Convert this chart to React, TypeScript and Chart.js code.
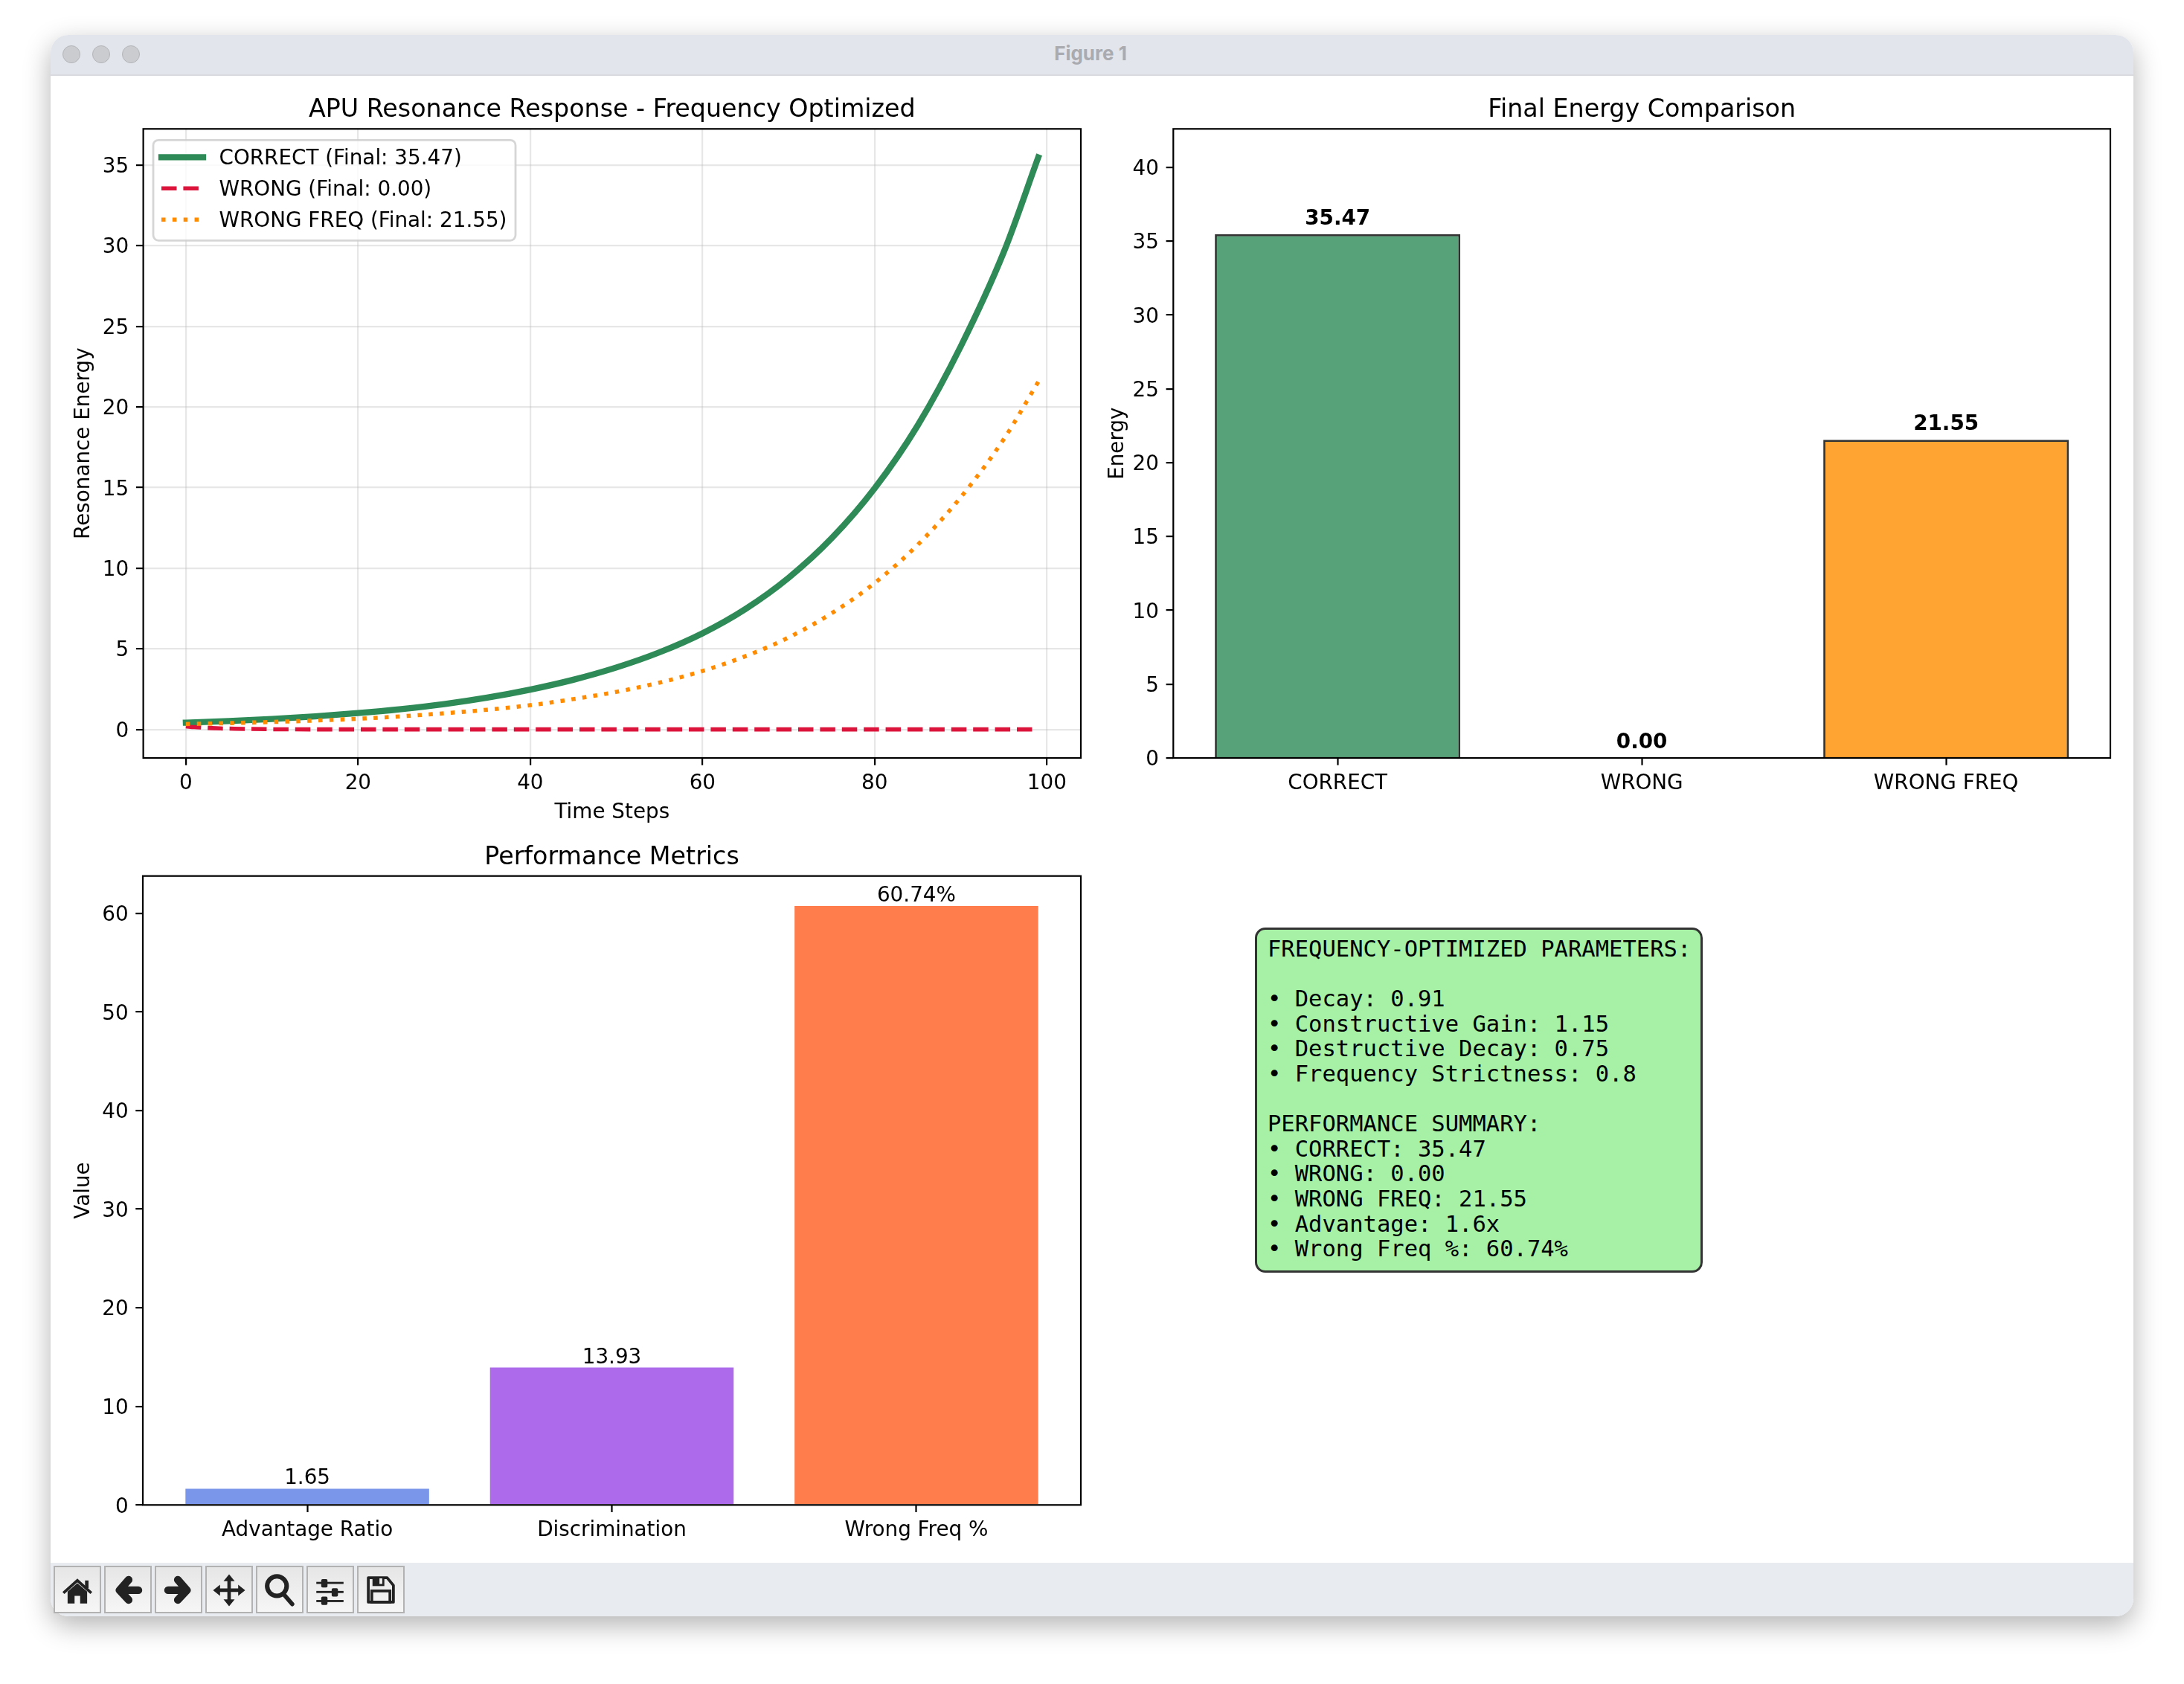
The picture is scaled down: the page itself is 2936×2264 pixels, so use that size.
import { useEffect, useRef } from "react";
import { Chart, registerables } from "chart.js";

Chart.register(...registerables);

const FONT = "'DejaVu Sans'";

// line chart
const steps = [0, 5, 10, 15, 20, 25, 30, 35, 40, 45, 50, 55, 60, 65, 70, 75, 80, 85, 90, 95, 99];
const correctEnergy = [0.42, 0.52, 0.65, 0.81, 1.01, 1.26, 1.57, 1.97, 2.47, 3.08, 3.84, 4.78, 5.96, 7.47, 9.4, 11.85, 14.95, 18.85, 23.75, 29.6, 35.47];
const wrongFreqEnergy = [0.33, 0.39, 0.46, 0.55, 0.66, 0.81, 1.0, 1.22, 1.5, 1.88, 2.33, 2.9, 3.62, 4.54, 5.7, 7.2, 9.08, 11.45, 14.4, 18.0, 21.55];
const wrongSteps = [0, 1, 2, 3, 4, 5, 7, 10, 15, 20, 40, 60, 80, 99];
const wrongEnergy = [0.19, 0.14, 0.11, 0.08, 0.06, 0.05, 0.03, 0.01, 0, 0, 0, 0, 0, 0];
const lineXTicks = [0, 20, 40, 60, 80, 100];
const lineYTicks = [0, 5, 10, 15, 20, 25, 30, 35];

// final energy bars
const energyLabels = ["CORRECT", "WRONG", "WRONG FREQ"];
const finalEnergy = [35.47, 0, 21.55];
const energyText = ["35.47", "0.00", "21.55"];
const energyColors = ["rgba(46,139,87,0.8)", "rgba(220,20,60,0.8)", "rgba(255,140,0,0.8)"];
const energyYTicks = [0, 5, 10, 15, 20, 25, 30, 35, 40];

// metric bars
const metricLabels = ["Advantage Ratio", "Discrimination", "Wrong Freq %"];
const metricValues = [1.65, 13.93, 60.74];
const metricText = ["1.65", "13.93", "60.74%"];
const metricColors = ["rgba(65,105,225,0.7)", "rgba(138,43,226,0.7)", "rgba(255,69,0,0.7)"];
const metricYTicks = [0, 10, 20, 30, 40, 50, 60];

const summaryLines = [
  "FREQUENCY-OPTIMIZED PARAMETERS:",
  "",
  "• Decay: 0.91",
  "• Constructive Gain: 1.15",
  "• Destructive Decay: 0.75",
  "• Frequency Strictness: 0.8",
  "",
  "PERFORMANCE SUMMARY:",
  "• CORRECT: 35.47",
  "• WRONG: 0.00",
  "• WRONG FREQ: 21.55",
  "• Advantage: 1.6x",
  "• Wrong Freq %: 60.74%",
];

const TICK_SIZE = 27.8;

const frame = {
  id: "frame",
  afterDatasetsDraw(chart: any) {
    const { ctx, chartArea: a } = chart;
    ctx.save();
    ctx.strokeStyle = "#000";
    ctx.lineWidth = 2.2;
    ctx.strokeRect(a.left, a.top, a.right - a.left, a.bottom - a.top);
    ctx.restore();
  },
};

const valueLabels = (texts: string[], weight: string, gap: number) => ({
  id: "valueLabels",
  afterDatasetsDraw(chart: any) {
    const { ctx } = chart;
    const bars = chart.getDatasetMeta(0).data;
    ctx.save();
    ctx.fillStyle = "#000";
    ctx.font = `${weight} ${TICK_SIZE}px ${FONT}`;
    ctx.textAlign = "center";
    ctx.textBaseline = "alphabetic";
    bars.forEach((bar: any, i: number) => ctx.fillText(texts[i], bar.x, bar.y - gap));
    ctx.restore();
  },
});

const legendBox = {
  id: "legendBox",
  afterDatasetsDraw(chart: any) {
    const { ctx, chartArea: a } = chart;
    const x = a.left + 13.4;
    const y = a.top + 15;
    ctx.save();
    ctx.beginPath();
    ctx.roundRect(x, y, 487, 135, 7);
    ctx.fillStyle = "rgba(255,255,255,0.8)";
    ctx.fill();
    ctx.strokeStyle = "rgba(204,204,204,0.8)";
    ctx.lineWidth = 2.8;
    ctx.stroke();
    ctx.font = `${TICK_SIZE}px ${FONT}`;
    ctx.textBaseline = "middle";
    chart.data.datasets.forEach((ds: any, i: number) => {
      const rowY = y + 23 + i * 42;
      ctx.beginPath();
      ctx.moveTo(x + 11, rowY);
      ctx.lineTo(x + 67, rowY);
      ctx.strokeStyle = ds.borderColor;
      ctx.lineWidth = ds.borderWidth;
      ctx.lineCap = ds.borderCapStyle;
      ctx.setLineDash(ds.borderDash || []);
      ctx.stroke();
      ctx.fillStyle = "#000";
      ctx.fillText(ds.label, x + 88.5, rowY + 2.5);
    });
    ctx.restore();
  },
};

const setTicks = (values: number[]) => (scale: any) => {
  scale.ticks = values.map((value) => ({ value }));
};

function baseX(extra: any) {
  return {
    type: "linear",
    offset: false,
    border: { display: false },
    afterFit: (s: any) => {
      s.height = extra.boxHeight;
    },
    ...extra,
  };
}

function yAxis(title: string, min: number, max: number, values: number[], boxWidth: number, grid: boolean, titleInset: number) {
  return {
    type: "linear",
    min,
    max,
    afterBuildTicks: setTicks(values),
    afterFit: (s: any) => {
      s.width = boxWidth;
    },
    border: { display: false },
    grid: {
      display: true,
      drawOnChartArea: grid,
      color: "rgba(176,176,176,0.3)",
      lineWidth: 2.2,
      tickColor: "#000",
      tickWidth: 2.2,
      tickLength: 9.7,
    },
    ticks: {
      color: "#000",
      padding: 9.7,
      labelOffset: 3,
      font: { family: FONT, size: TICK_SIZE },
    },
    title: {
      display: true,
      text: title,
      color: "#000",
      padding: { top: titleInset, bottom: 0 },
      font: { family: FONT, size: TICK_SIZE, lineHeight: 1 },
    },
  };
}

function barXAxis(labels: string[], boxHeight: number) {
  return baseX({
    boxHeight,
    min: -0.54,
    max: 2.54,
    afterBuildTicks: setTicks(labels.map((_, i) => i)),
    grid: {
      offset: false,
      drawOnChartArea: false,
      tickColor: "#000",
      tickWidth: 2.2,
      tickLength: 9.7,
    },
    ticks: {
      color: "#000",
      padding: 8,
      maxRotation: 0,
      autoSkip: false,
      font: { family: FONT, size: TICK_SIZE },
      callback: (v: number) => labels[v],
    },
  });
}

function titleOption(text: string, boxHeight: number) {
  return {
    display: true,
    text,
    color: "#000",
    fullSize: false,
    padding: { top: 21.5, bottom: boxHeight - 33.3 - 21.5 },
    font: { family: FONT, size: 33.3, weight: "normal", lineHeight: 1 },
  };
}

function useChart(build: () => any) {
  const ref = useRef<HTMLCanvasElement | null>(null);
  useEffect(() => {
    if (!ref.current) return;
    const chart = new Chart(ref.current, build());
    return () => chart.destroy();
  }, []);
  return ref;
}

const lineConfig = () => ({
  type: "line",
  data: {
    datasets: [
      {
        label: "CORRECT (Final: 35.47)",
        data: steps.map((x, i) => ({ x, y: correctEnergy[i] })),
        borderColor: "#2E8B57",
        borderWidth: 8.3,
        borderCapStyle: "square",
        order: 3,
      },
      {
        label: "WRONG (Final: 0.00)",
        data: wrongSteps.map((x, i) => ({ x, y: wrongEnergy[i] })),
        borderColor: "#DC143C",
        borderWidth: 5.55,
        borderDash: [20.5, 8.9],
        borderCapStyle: "butt",
        order: 2,
      },
      {
        label: "WRONG FREQ (Final: 21.55)",
        data: steps.map((x, i) => ({ x, y: wrongFreqEnergy[i] })),
        borderColor: "#FF8C00",
        borderWidth: 5.55,
        borderDash: [5.55, 9.3],
        borderCapStyle: "butt",
        order: 1,
      },
    ],
  },
  options: {
    responsive: false,
    animation: false,
    devicePixelRatio: 1,
    layout: { autoPadding: false, padding: { right: 27 } },
    elements: { point: { radius: 0 }, line: { cubicInterpolationMode: "monotone" } },
    plugins: {
      legend: { display: false },
      tooltip: { enabled: false },
      title: titleOption("APU Resonance Response - Frequency Optimized", 63.3),
    },
    scales: {
      x: baseX({
        boxHeight: 88,
        min: -4.95,
        max: 103.95,
        afterBuildTicks: setTicks(lineXTicks),
        grid: {
          color: "rgba(176,176,176,0.3)",
          lineWidth: 2.2,
          tickColor: "#000",
          tickWidth: 2.2,
          tickLength: 9.7,
        },
        ticks: {
          color: "#000",
          padding: 8,
          maxRotation: 0,
          font: { family: FONT, size: TICK_SIZE },
        },
        title: {
          display: true,
          text: "Time Steps",
          color: "#000",
          padding: 0,
          font: { family: FONT, size: TICK_SIZE, lineHeight: 1 },
        },
      }),
      y: yAxis("Resonance Energy", -1.77, 37.24, lineYTicks, 96.6, true, 3),
    },
  },
  plugins: [frame, legendBox],
});

const barConfig = (
  labels: string[],
  values: number[],
  colors: string[],
  yTitle: string,
  yMax: number,
  yTicks: number[],
  title: string,
  titleBox: number,
  edge: boolean,
  xBox: number,
  yBox: number,
  titleInset: number
) => ({
  type: "bar",
  data: {
    datasets: [
      {
        data: values.map((y, x) => ({ x, y })),
        backgroundColor: colors,
        borderColor: edge ? "rgba(0,0,0,0.8)" : "transparent",
        borderWidth: edge ? 2.8 : 0,
        borderSkipped: "bottom",
        barPercentage: edge ? 0.807 : 0.8,
        categoryPercentage: 1,
      },
    ],
  },
  options: {
    responsive: false,
    animation: false,
    devicePixelRatio: 1,
    layout: { autoPadding: false, padding: { right: 27 } },
    plugins: {
      legend: { display: false },
      tooltip: { enabled: false },
      title: titleOption(title, titleBox),
    },
    scales: {
      x: barXAxis(labels, xBox),
      y: yAxis(yTitle, 0, yMax, yTicks, yBox, false, titleInset),
    },
  },
});

const ICONS = [
  <g key="home" fill="#222">
    <path d="M18 35 L32 23 L46 35 V52 H36 V41 H28 V52 H18Z" />
    <path d="M12 37 L32 19 L52 37" fill="none" stroke="#222" strokeWidth="4" />
    <rect x="43" y="19" width="5" height="11" />
  </g>,
  <g key="back" fill="none" stroke="#222" strokeWidth="11" strokeLinecap="round" strokeLinejoin="round">
    <path d="M33 18 L20 33 L33 47 M22 33 H47" />
  </g>,
  <g key="forward" fill="none" stroke="#222" strokeWidth="11" strokeLinecap="round" strokeLinejoin="round">
    <path d="M31 18 L44 33 L31 47 M42 33 H17" />
  </g>,
  <g key="move" fill="#222">
    <path d="M29.5 18 H34.5 V30.5 H46 V35.5 H34.5 V48 H29.5 V35.5 H18 V30.5 H29.5Z" />
    <path d="M32 10 L40 20 H24Z M32 56 L24 46 H40Z M9 33 L19 25 V41Z M55 33 L45 41 V25Z" />
  </g>,
  <g key="zoom" fill="none" stroke="#222" strokeLinecap="round">
    <circle cx="28" cy="27" r="14" strokeWidth="6.5" />
    <path d="M38 39 L50 53" strokeWidth="6" />
  </g>,
  <g key="sliders" fill="#222">
    <rect x="12" y="21" width="39" height="3" />
    <rect x="12" y="34" width="39" height="3" />
    <rect x="12" y="47" width="39" height="3" />
    <rect x="19" y="17" width="9" height="12" rx="2" />
    <rect x="34" y="30" width="9" height="12" rx="2" />
    <rect x="19" y="42" width="9" height="12" rx="2" />
  </g>,
  <g key="save">
    <path d="M14 15 H41 L50 26 V50 H14Z" fill="none" stroke="#222" strokeWidth="4" strokeLinejoin="round" />
    <rect x="20" y="14" width="17" height="13" fill="#222" />
    <rect x="30" y="16" width="4" height="8" fill="#f2f2f2" />
    <path d="M19 34 H45 V50 H19Z" fill="none" stroke="#222" strokeWidth="4" />
  </g>,
];

const abs = (left: number, top: number, width: number, height: number) => ({
  position: "absolute" as const,
  left,
  top,
  width,
  height,
});

export default function App() {
  const lineRef = useChart(lineConfig);
  const energyRef = useChart(() => ({
    ...barConfig(energyLabels, finalEnergy, energyColors, "Energy", 42.6, energyYTicks, "Final Energy Comparison", 63.3, true, 88, 94.3, 5.6),
    plugins: [frame, valueLabels(energyText, "bold", 13)],
  }));
  const metricRef = useChart(() => ({
    ...barConfig(metricLabels, metricValues, metricColors, "Value", 63.78, metricYTicks, "Performance Metrics", 62.7, false, 66.7, 96, 3),
    plugins: [frame, valueLabels(metricText, "normal", 6)],
  }));

  return (
    <div style={{ ...abs(0, 0, 2936, 2264), background: "#fff", overflow: "hidden" }}>
      <div
        style={{
          ...abs(68, 47, 2800, 2126),
          background: "#fff",
          borderRadius: 24,
          boxShadow: "0 12px 36px rgba(0,0,0,0.3)",
          overflow: "hidden",
        }}
      >
        <div
          style={{
            ...abs(0, 0, 2800, 55),
            background: "#e2e5ec",
            borderBottom: "2px solid #d8dadf",
            boxSizing: "border-box",
          }}
        />
        <div style={{ ...abs(0, 2054, 2800, 72), background: "#e8ebf0" }} />
      </div>
      {[96, 136, 175.5].map((x) => (
        <div
          key={x}
          style={{
            ...abs(x - 12, 61, 24, 24),
            boxSizing: "border-box",
            borderRadius: "50%",
            background: "#cbccd0",
            border: "1px solid #b4b5b8",
          }}
        />
      ))}
      <div
        style={{
          ...abs(1366, 55, 200, 34),
          textAlign: "center",
          font: "bold 26px/34px Inter",
          color: "#a9abb0",
        }}
      >
        Figure 1
      </div>
      {ICONS.map((icon, i) => (
        <svg
          key={i}
          width={64}
          height={64}
          viewBox="0 0 64 64"
          style={{
            ...abs(72 + i * 68, 2105, 64, 64),
            boxSizing: "border-box",
            border: "2px solid #b2b2b2",
            background: "linear-gradient(#e6e6e6, #f6f6f6)",
            overflow: "hidden",
          }}
        >
          {icon}
        </svg>
      ))}
      <canvas ref={lineRef} width={1384} height={997} style={{ position: "absolute", left: 96, top: 110 }} />
      <canvas ref={energyRef} width={1381} height={997} style={{ position: "absolute", left: 1483, top: 110 }} />
      <canvas ref={metricRef} width={1384} height={975} style={{ position: "absolute", left: 96, top: 1115 }} />
      <pre
        style={{
          ...abs(1687, 1247, 602, 464),
          boxSizing: "border-box",
          margin: 0,
          padding: "9px 0 0 14px",
          background: "#a6f1a6",
          border: "3px solid #333",
          borderRadius: 14,
          color: "#000",
          font: "30.5px/33.6px 'DejaVu Sans Mono'",
        }}
      >
        {summaryLines.join("\n")}
      </pre>
    </div>
  );
}
